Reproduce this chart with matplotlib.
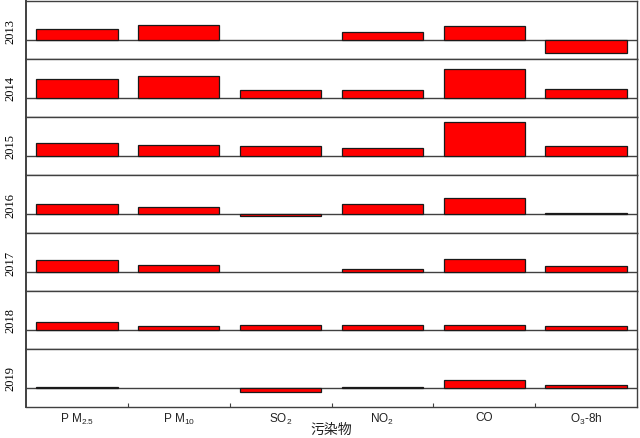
import matplotlib
matplotlib.use("Agg")
import matplotlib.pyplot as plt
import matplotlib.transforms as mtransforms
import numpy as np

years = ["2013", "2014", "2015", "2016", "2017", "2018", "2019"]
pollutants = [r"P M$_{\mathregular{2.5}}$", r"P M$_{\mathregular{10}}$", r"SO$_{\mathregular{2}}$",
              r"NO$_{\mathregular{2}}$", "CO", r"O$_{\mathregular{3}}$-8h"]
v2013 = [0.28, 0.37, 0.00, 0.19, 0.36, -0.34]
v2014 = [0.49, 0.55, 0.19, 0.19, 0.75, 0.22]
v2015 = [0.34, 0.28, 0.24, 0.19, 0.87, 0.25]
v2016 = [0.24, 0.16, -0.06, 0.25, 0.41, 0.03]
v2017 = [0.29, 0.17, 0.00, 0.08, 0.33, 0.14]
v2018 = [0.21, 0.10, 0.12, 0.12, 0.12, 0.09]
v2019 = [0.03, 0.00, -0.10, 0.02, 0.21, 0.06]
values = [v2013, v2014, v2015, v2016, v2017, v2018, v2019]

W, H = 640, 439
fig = plt.figure(figsize=(W / 100, H / 100), dpi=100)
left, right, top, bottom = 26 / W, 637 / W, 1 - 2 / H, 1 - 408 / H
gs = fig.add_gridspec(len(years), 1, left=left, right=right, top=top, bottom=bottom, hspace=0)

edge = "#404040"
x = np.arange(len(pollutants))
for i, (yr, vals) in enumerate(zip(years, values)):
    ax = fig.add_subplot(gs[i, 0])
    ax.axhline(0, color=edge, lw=1.0, zorder=1)
    vals = np.asarray(vals, dtype=float)
    nz = vals != 0
    ax.bar(x[nz], vals[nz], width=0.8, color="#ff0000", edgecolor="#1a1a1a", linewidth=0.9, zorder=2)
    ax.set_xlim(-0.5, len(pollutants) - 0.5)
    ax.set_ylim(-0.5, 1.0)
    ax.set_yticks([])
    for s in ax.spines.values():
        s.set_color(edge)
        s.set_linewidth(1.0)
    ax.spines["left"].set_linewidth(1.4)
    if i < len(years) - 1:
        ax.set_xticks([])
    else:
        ax.set_xticks(np.arange(0.5, len(pollutants) - 0.5, 1.0))
        ax.set_xticklabels([])
        ax.tick_params(axis="x", which="major", direction="in", length=3, color=edge)
        ax.set_xticks(x, minor=True)
        ax.set_xticklabels(pollutants, minor=True, fontsize=8.5, fontfamily="Liberation Sans", color="#222222")
        ax.tick_params(axis="x", which="minor", length=0, pad=3)
        ax.set_xlabel("污染物", fontsize=10, fontfamily=["Noto Sans CJK SC", "DejaVu Sans"],
                      labelpad=-3, color="#222222")
    fig.text(10 / W, 0.5, yr, rotation=90, ha="center", va="center", fontsize=9,
             fontfamily="Liberation Serif",
             transform=mtransforms.blended_transform_factory(fig.transFigure, ax.transAxes))

fig.savefig("out.png", dpi=100)
